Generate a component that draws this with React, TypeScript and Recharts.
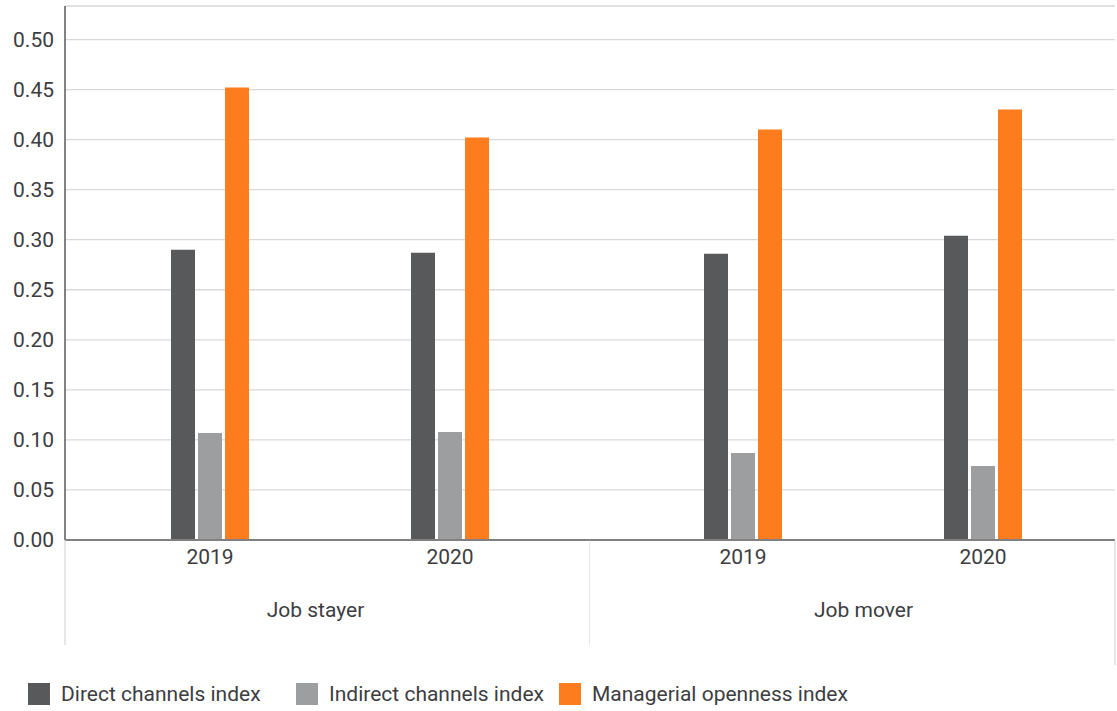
import React from 'react';
import { BarChart, Bar, XAxis, YAxis, CartesianGrid } from 'recharts';

const years = ['2019', '2020'];
const groups = ['Job stayer', 'Job mover'];
const seriesNames = ['Direct channels index', 'Indirect channels index', 'Managerial openness index'];
const seriesColors = ['#58595b', '#9d9ea0', '#fd7c1e'];

const stayerDirect = [0.29, 0.287];
const stayerIndirect = [0.107, 0.108];
const stayerManagerial = [0.452, 0.402];

const moverDirect = [0.286, 0.304];
const moverIndirect = [0.087, 0.074];
const moverManagerial = [0.41, 0.43];

const yTicks = [0, 0.05, 0.1, 0.15, 0.2, 0.25, 0.3, 0.35, 0.4, 0.45, 0.5];

const FONT = 'Roboto, "Open Sans", sans-serif';
const TEXT = '#3d3d3f';
const FS = 21;
const LEGEND_ITEM_W = [268, 263, 300];

const build = (d: number[], i: number[], m: number[]) =>
  years.map((y, k) => ({ year: y, direct: d[k], indirect: i[k], managerial: m[k] }));

const stayerData = build(stayerDirect, stayerIndirect, stayerManagerial);
const moverData = build(moverDirect, moverIndirect, moverManagerial);

const YearTick = (props: any) => {
  const { x, y, payload } = props;
  return (
    <text x={x} y={y + 16} textAnchor="middle" fontFamily={FONT} fontSize={FS} fill={TEXT}>
      {payload.value}
    </text>
  );
};

const makeGroupLabel = (name: string, leftLen: number, rightLen: number, drawRight: boolean, shift: number) => (props: any) => {
  const vb = props.viewBox || {};
  const x = vb.x ?? 0;
  const y = vb.y ?? 0;
  const w = vb.width ?? 0;
  return (
    <g>
      <line x1={x} y1={y} x2={x} y2={y + leftLen} stroke="#cfcfcf" strokeWidth={1} />
      {drawRight ? <line x1={x + w} y1={y} x2={x + w} y2={y + rightLen} stroke="#cfcfcf" strokeWidth={1} /> : null}
      <text x={x + w / 2 + shift} y={y + 77} textAnchor="middle" fontFamily={FONT} fontSize={FS} fill={TEXT}>
        {name}
      </text>
    </g>
  );
};

const CHART_H = 665;
const TOP = 6;
const AXIS_H = 125;
const DOMAIN: [number, number] = [0, 0.5335];

const bars = () => [
  <Bar key="d" dataKey="direct" name={seriesNames[0]} fill={seriesColors[0]} isAnimationActive={false} />,
  <Bar key="i" dataKey="indirect" name={seriesNames[1]} fill={seriesColors[1]} isAnimationActive={false} />,
  <Bar key="m" dataKey="managerial" name={seriesNames[2]} fill={seriesColors[2]} isAnimationActive={false} />,
];

export default function App() {
  return (
    <div style={{ position: 'absolute', left: 0, top: 0, width: 1117, height: 711, background: '#fff' }}>
      <div style={{ position: 'absolute', left: 0, top: 0 }}>
        <BarChart width={590} height={CHART_H} data={stayerData} margin={{ top: TOP, right: 0, bottom: 0, left: 0 }} barSize={24} barGap={3}>
          <CartesianGrid vertical={false} stroke="#d9d9d9" strokeWidth={1.3} />
          <YAxis
            width={65}
            domain={DOMAIN}
            ticks={yTicks}
            interval={0}
            tickFormatter={(v: number) => v.toFixed(2)}
            tick={{ fontFamily: FONT, fontSize: FS, fill: TEXT }}
            tickLine={false}
            tickSize={6}
            tickMargin={5}
            axisLine={{ stroke: '#58595b', strokeWidth: 1.5 }}
          />
          <XAxis
            dataKey="year"
            height={AXIS_H}
            padding={{ left: 25, right: 20 }}
            tick={<YearTick />}
            tickLine={false}
            interval={0}
            axisLine={{ stroke: '#808080', strokeWidth: 2 }}
            label={{ content: makeGroupLabel(groups[0], 105, 105, true, -12) } as any}
          />
          {bars()}
        </BarChart>
      </div>
      <div style={{ position: 'absolute', left: 590, top: 0 }}>
        <BarChart width={527} height={CHART_H} data={moverData} margin={{ top: TOP, right: 2, bottom: 0, left: 0 }} barSize={24} barGap={3}>
          <CartesianGrid vertical={false} stroke="#d9d9d9" strokeWidth={1.3} />
          <YAxis hide width={0} domain={DOMAIN} ticks={yTicks} />
          <XAxis
            dataKey="year"
            height={AXIS_H}
            padding={{ left: 33, right: 12 }}
            tick={<YearTick />}
            tickLine={false}
            interval={0}
            axisLine={{ stroke: '#808080', strokeWidth: 2 }}
            label={{ content: makeGroupLabel(groups[1], 0, 125, true, 11) } as any}
          />
          {bars()}
        </BarChart>
      </div>
      <div style={{ position: 'absolute', left: 28, top: 682, display: 'flex', alignItems: 'center', fontFamily: FONT, fontSize: FS, color: TEXT }}>
        {seriesNames.map((n, k) => (
          <div key={n} style={{ display: 'flex', alignItems: 'center', width: LEGEND_ITEM_W[k] }}>
            <div style={{ width: 22, height: 22, background: seriesColors[k], marginRight: 11, flexShrink: 0 }} />
            <span style={{ whiteSpace: 'nowrap' }}>{n}</span>
          </div>
        ))}
      </div>
    </div>
  );
}
